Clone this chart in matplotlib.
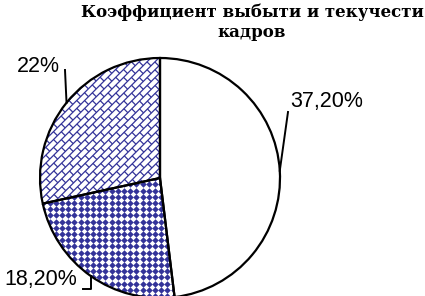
import numpy as np
import matplotlib
matplotlib.use("Agg")
import matplotlib.pyplot as plt
from matplotlib.collections import LineCollection

# chart data
title = "Коэффициент выбыти и текучести\nкадров"
values = [37.2, 18.2, 22.0]
labels = ["37,20%", "18,20%", "22%"]

navy = "#333399"
W, H = 425, 296

fig = plt.figure(figsize=(W / 100, H / 100), dpi=100)
ax = fig.add_axes([0, 0, 1, 1])

cx, cy, r = 160, H - 178, 120

wedges, _ = ax.pie(values, startangle=90, counterclock=False,
                   center=(cx, cy), radius=r, frame=True,
                   colors=["white"] * 3, wedgeprops=dict(linewidth=0))

# 22% slice: navy shingle texture
sp, L = 5.6, 11.0
u = np.array([1.0, 1.0]) / np.sqrt(2)
n = np.array([1.0, -1.0]) / np.sqrt(2)
segs = []
for k in range(-80, 80):
    base = k * sp * n
    segs.append([base - 600 * u, base + 600 * u])
    for m in range(-60, 60):
        t = m * L + (k % 2) * L / 2
        segs.append([base + t * u, base + sp * n + t * u])
shingle = LineCollection(segs, colors=navy, linewidths=0.9, zorder=2)
ax.add_collection(shingle)
shingle.set_clip_path(wedges[2])

# 18,2% slice: navy diamonds texture
gx, gy = np.meshgrid(np.arange(0, W, 6.2), np.arange(0, H, 6.2))
dots = ax.scatter(gx.ravel(), gy.ravel(), marker="D", s=11, color=navy,
                  linewidths=0, zorder=2)
dots.set_clip_path(wedges[1])

# black outlines on top
ax.pie(values, startangle=90, counterclock=False, center=(cx, cy), radius=r,
       frame=True, colors=["none"] * 3,
       wedgeprops=dict(linewidth=1.6, edgecolor="black", zorder=3))

# leader lines to slice mid-points
mids = [np.deg2rad((w.theta1 + w.theta2) / 2) for w in wedges]
edge = [(cx + r * np.cos(a), cy + r * np.sin(a)) for a in mids]
lk = dict(color="black", lw=1.4, zorder=4)
ax.plot([edge[0][0], 288], [edge[0][1], H - 112], **lk)
ax.plot([edge[2][0], 65], [edge[2][1], H - 70], **lk)
ax.plot([edge[1][0], edge[1][0], 83], [edge[1][1], H - 289, H - 289], **lk)

lf = dict(family="Liberation Sans", fontsize=15.5, color="black")
ax.text(290, H - 102, labels[0], ha="left", va="center", **lf)
ax.text(77, H - 279, labels[1], ha="right", va="center", **lf)
ax.text(38, H - 66, labels[2], ha="center", va="center", **lf)

ax.text(252, H - 22, title, ha="center", va="center", family="DejaVu Serif",
        fontweight="bold", fontsize=12, linespacing=1.25)

ax.set_xlim(0, W)
ax.set_ylim(0, H)
ax.set_aspect("equal")
ax.axis("off")

fig.savefig("out.png", dpi=100)
